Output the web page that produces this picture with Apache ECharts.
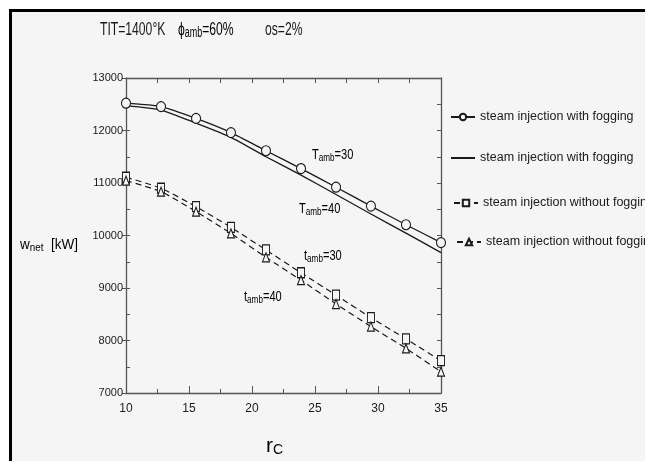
<!DOCTYPE html>
<html>
<head>
<meta charset="utf-8">
<script src="https://cdn.jsdelivr.net/npm/echarts@6/dist/echarts.min.js"></script>
<style>
  html, body { margin: 0; padding: 0; background: #fff; }
  #chart { width: 645px; height: 461px; }
</style>
</head>
<body>
<div id="chart"></div>
<script>
// compression ratio r_c (marker positions)
var rc = [10, 12.78, 15.56, 18.33, 21.11, 23.89, 26.67, 29.44, 32.22, 35];
// net work [kW]
var fog30 = [12520, 12455, 12230, 11960, 11615, 11275, 10920, 10560, 10205, 9865];
var fog40 = [12475, 12390, 12140, 11870, 11500, 11150, 10780, 10410, 10045, 9675];
var noFog30 = [11110, 10900, 10550, 10155, 9725, 9290, 8865, 8435, 8030, 7615];
var noFog40 = [11045, 10835, 10455, 10040, 9585, 9150, 8695, 8265, 7850, 7405];
// axis ticks
var xTicks = [10, 15, 20, 25, 30, 35];
var yTicks = [7000, 8000, 9000, 10000, 11000, 12000, 13000];
var legendNames = {
  s1: "steam injection with fogging",
  s2: "steam injection with fogging",
  s3: "steam injection without fogging",
  s4: "steam injection without fogging"
};

var FF = '"Liberation Sans", Arial, sans-serif';
var BG = "#f5f5f5";
var INK = "#1a1a1a";

function pts(ys) {
  return rc.map(function (x, i) { return [x, ys[i]]; });
}

// one legend box per entry (placed like the original)
function legendAt(item, top, left) {
  return {
    data: [item],
    left: left, top: top,
    padding: 0,
    itemWidth: 24, itemHeight: 8,
    selectedMode: false,
    formatter: function (n) { return legendNames[n]; },
    textStyle: { fontFamily: FF, fontSize: 12.5, color: INK, lineHeight: 14 }
  };
}

var subRich = function (main, sub) {
  return {
    m: { fontFamily: FF, fontSize: main, color: INK, lineHeight: main + 2 },
    s: { fontFamily: FF, fontSize: sub, color: INK, lineHeight: sub, verticalAlign: "bottom" }
  };
};

var yStep = yTicks[1] - yTicks[0];
var xStep = xTicks[1] - xTicks[0];
var plain = function (v) { return String(v); };

var chart = echarts.init(document.getElementById("chart"), null, { renderer: "canvas" });
chart.setOption({
  backgroundColor: "#fff",
  animation: false,
  grid: { left: 126, top: 78, right: 204, bottom: 68 },
  xAxis: [
    {
      type: "value", min: xTicks[0], max: xTicks[xTicks.length - 1], interval: xStep,
      axisLine: { onZero: false, lineStyle: { color: "#555", width: 1.3 } },
      axisTick: { inside: true, length: 7, lineStyle: { color: "#555" } },
      minorTick: { show: true, splitNumber: 2, length: 4, lineStyle: { color: "#555" } },
      axisLabel: { fontFamily: FF, fontSize: 12, color: INK, margin: 10, formatter: plain },
      splitLine: { show: false }
    },
    {
      type: "value", position: "top", min: xTicks[0], max: xTicks[xTicks.length - 1], interval: xStep / 2,
      axisLine: { onZero: false, lineStyle: { color: "#555", width: 1.3 } },
      axisTick: { inside: true, length: 5, lineStyle: { color: "#555" } },
      axisLabel: { show: false },
      splitLine: { show: false }
    }
  ],
  yAxis: [
    {
      type: "value", min: yTicks[0], max: yTicks[yTicks.length - 1], interval: yStep,
      axisLine: { show: true, onZero: false, lineStyle: { color: "#555", width: 1.3 } },
      axisTick: { show: true, inside: false, length: 4, lineStyle: { color: "#555" } },
      axisLabel: { fontFamily: FF, fontSize: 11, color: INK, margin: 3, formatter: plain },
      splitLine: { show: false }
    },
    {
      type: "value", position: "left", min: yTicks[0], max: yTicks[yTicks.length - 1], interval: yStep / 2,
      axisLine: { show: false },
      axisTick: { show: true, inside: true, length: 4, lineStyle: { color: "#555" } },
      axisLabel: { show: false },
      splitLine: { show: false }
    },
    {
      type: "value", position: "right", min: yTicks[0], max: yTicks[yTicks.length - 1], interval: yStep / 2,
      axisLine: { show: true, onZero: false, lineStyle: { color: "#555", width: 1.3 } },
      axisTick: { show: true, inside: true, length: 4, lineStyle: { color: "#555" } },
      axisLabel: { show: false },
      splitLine: { show: false }
    }
  ],
  legend: [
    legendAt("s1", 110, 450),
    legendAt({ name: "s2", itemStyle: { opacity: 0 } }, 151, 450),
    legendAt("s3", 196, 453),
    legendAt("s4", 235, 456)
  ],
  series: [
    {
      name: "s1", type: "line", data: pts(fog30), smooth: 0.2,
      symbol: "circle", symbolSize: [9, 10],
      lineStyle: { color: INK, width: 1.3 },
      itemStyle: { color: BG, borderColor: INK, borderWidth: 1.1 }
    },
    {
      name: "s2", type: "line", data: pts(fog40), smooth: 0.2,
      symbol: "none",
      lineStyle: { color: INK, width: 1.3 },
      itemStyle: { color: INK }
    },
    {
      name: "s3", type: "line", data: pts(noFog30), smooth: 0.2,
      symbol: "rect", symbolSize: [7, 10],
      lineStyle: { color: INK, width: 1.2, type: [6, 4] },
      itemStyle: { color: BG, borderColor: INK, borderWidth: 1.1 }
    },
    {
      name: "s4", type: "line", data: pts(noFog40), smooth: 0.2,
      symbol: "triangle", symbolSize: [7, 9],
      lineStyle: { color: INK, width: 1.2, type: [6, 4] },
      itemStyle: { color: BG, borderColor: INK, borderWidth: 1.1 }
    }
  ],
  graphic: [
    // frame and panel
    { type: "rect", z: -20, shape: { x: 9, y: 9, width: 640, height: 460 }, style: { fill: "#000" } },
    { type: "rect", z: -19, shape: { x: 12, y: 12, width: 640, height: 460 }, style: { fill: BG } },
    // header
    { type: "text", x: 100, y: 30, scaleX: 0.64,
      style: { text: "TIT=1400°K", font: "19px " + FF, fill: INK, verticalAlign: "middle" } },
    { type: "text", x: 178, y: 30, scaleX: 0.64,
      style: { text: "{m|ϕ}{s|amb}{m|=60%}", rich: subRich(19, 14), verticalAlign: "middle" } },
    { type: "text", x: 265, y: 30, scaleX: 0.64,
      style: { text: "os=2%", font: "19px " + FF, fill: INK, verticalAlign: "middle" } },
    // axis names
    { type: "text", x: 20, y: 245, scaleX: 0.9,
      style: { text: "{m|w}{s|net}{m|  [kW]}", rich: subRich(15, 11), verticalAlign: "middle" } },
    { type: "text", x: 266, y: 446,
      style: { text: "{m|r}{s|C}", rich: subRich(21, 14), verticalAlign: "middle" } },
    // curve annotations
    { type: "text", x: 312, y: 155, scaleX: 0.74,
      style: { text: "{m|T}{s|amb}{m|=30}", rich: subRich(15, 11), verticalAlign: "middle" } },
    { type: "text", x: 299, y: 209, scaleX: 0.74,
      style: { text: "{m|T}{s|amb}{m|=40}", rich: subRich(15, 11), verticalAlign: "middle" } },
    { type: "text", x: 304, y: 256, scaleX: 0.74,
      style: { text: "{m|t}{s|amb}{m|=30}", rich: subRich(15, 11), verticalAlign: "middle" } },
    { type: "text", x: 244, y: 297, scaleX: 0.74,
      style: { text: "{m|t}{s|amb}{m|=40}", rich: subRich(15, 11), verticalAlign: "middle" } }
  ]
});
</script>
</body>
</html>
